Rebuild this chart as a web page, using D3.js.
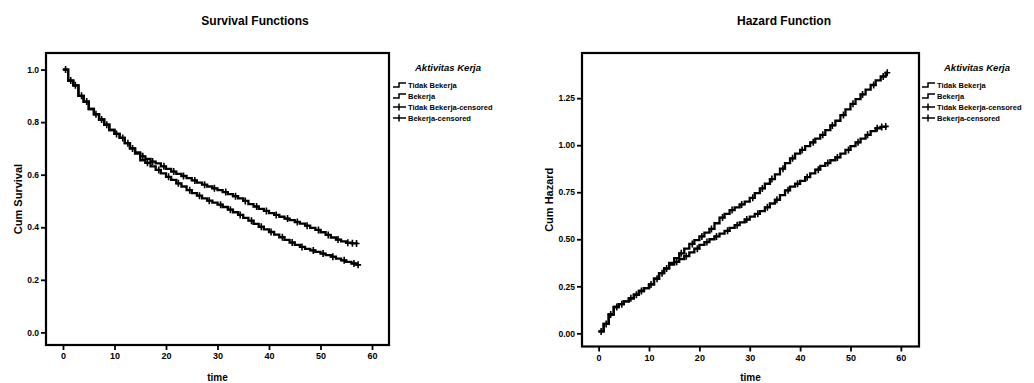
<!DOCTYPE html>
<html>
<head>
<meta charset="utf-8">
<script src="https://cdn.jsdelivr.net/npm/d3@7/dist/d3.min.js"></script>
<style>
	body { margin: 0; background: #fff; }
	svg { font-family: "Liberation Sans", Arial, sans-serif; font-weight: bold; }
</style>
</head>
<body>
<svg id="chart" width="1034" height="383"></svg>
<script>
// waktu (bulan) untuk tiap langkah kurva
const timeSteps = [0,1,2,3,4,5,6,7,8,9,10,11,12,13,14,15,16,17,18,19,20,21,22,23,24,25,26,27,28,29,
	30,31,32,33,34,35,36,37,38,39,40,41,42,43,44,45,46,47,48,49,50,51,52,53,54,55,56,57];

// Cum Survival
const survTidak = [1.0,0.958,0.94,0.90,0.878,0.85,0.83,0.81,0.79,0.77,0.755,0.74,0.72,0.70,0.685,0.67,
	0.66,0.65,0.643,0.632,0.622,0.612,0.603,0.595,0.587,0.578,0.57,0.562,0.555,0.548,0.541,0.534,0.526,
	0.518,0.51,0.50,0.488,0.479,0.47,0.462,0.454,0.447,0.44,0.433,0.427,0.42,0.414,0.406,0.398,0.39,
	0.381,0.371,0.361,0.353,0.346,0.341,0.339,0.338];
const survBekerja = [1.0,0.958,0.94,0.90,0.878,0.85,0.83,0.81,0.79,0.77,0.755,0.74,0.72,0.70,0.68,0.655,
	0.645,0.632,0.618,0.605,0.592,0.58,0.567,0.555,0.541,0.53,0.52,0.51,0.501,0.494,0.486,0.477,0.467,
	0.457,0.447,0.436,0.425,0.413,0.402,0.392,0.382,0.372,0.362,0.352,0.342,0.333,0.325,0.318,0.312,
	0.306,0.30,0.294,0.288,0.281,0.274,0.268,0.262,0.257];

// Cum Hazard
const hazTidak = [0.01,0.05,0.10,0.14,0.155,0.17,0.186,0.205,0.225,0.24,0.26,0.29,0.32,0.345,0.365,0.38,
	0.395,0.41,0.43,0.45,0.47,0.485,0.50,0.515,0.53,0.545,0.56,0.575,0.59,0.605,0.62,0.635,0.65,0.67,
	0.69,0.71,0.735,0.76,0.78,0.795,0.81,0.83,0.85,0.87,0.89,0.905,0.92,0.935,0.955,0.975,0.995,1.015,
	1.035,1.055,1.075,1.09,1.097,1.10];
const hazBekerja = [0.01,0.05,0.10,0.14,0.155,0.17,0.186,0.205,0.225,0.24,0.26,0.29,0.32,0.345,0.375,0.40,
	0.425,0.45,0.475,0.495,0.515,0.535,0.555,0.585,0.615,0.635,0.655,0.67,0.685,0.70,0.72,0.745,0.77,
	0.795,0.82,0.845,0.875,0.905,0.93,0.955,0.975,0.995,1.015,1.035,1.055,1.08,1.105,1.13,1.16,1.19,
	1.22,1.245,1.27,1.295,1.32,1.345,1.365,1.385];

// waktu tersensor
const censTidak = [0.5,2.4,4.6,7.5,10.4,12.6,15.5,17.4,19.6,21.5,23.4,25.6,27.5,29.4,31.6,33.5,35.4,
	37.6,39.5,41.4,43.6,45.5,47.4,49.6,51.5,53.4,55.3,56.2,57.0];
const censBekerja = [1.5,3.6,6.4,8.5,11.6,13.5,16.4,18.6,20.5,22.4,24.6,26.5,28.4,30.6,32.5,34.4,36.6,
	38.5,40.4,42.6,44.5,46.4,48.6,50.5,52.4,54.6,56.5,57.3];

const legendTitle = "Aktivitas Kerja";
const legendNames = ["Tidak Bekerja", "Bekerja", "Tidak Bekerja-censored", "Bekerja-censored"];
const timeTicks = [0, 10, 20, 30, 40, 50, 60];
const survTicks = [0, 0.2, 0.4, 0.6, 0.8, 1.0];
const hazTicks = [0, 0.25, 0.5, 0.75, 1.0, 1.25];

const svg = d3.select("#chart");

drawPanel({
	title: "Survival Functions", titleX: 255,
	yLabel: "Cum Survival", yLabelX: 18,
	left: 46, right: 389, top: 53, bottom: 345,
	xDomain: [-3.3, 63.3], yDomain: [-0.048, 1.063],
	yTicks: survTicks, yFormat: d3.format(".1f"),
	series: [survTidak, survBekerja],
	legendX: 393
});

drawPanel({
	title: "Hazard Function", titleX: 784,
	yLabel: "Cum Hazard", yLabelX: 549,
	left: 582, right: 919, top: 53, bottom: 346.5,
	xDomain: [-3.3, 63.6], yDomain: [-0.07, 1.49],
	yTicks: hazTicks, yFormat: d3.format(".2f"),
	series: [hazTidak, hazBekerja],
	legendX: 922
});

function drawPanel(c) {
	const g = svg.append("g");
	const x = d3.scaleLinear(c.xDomain, [c.left, c.right]);
	const y = d3.scaleLinear(c.yDomain, [c.bottom, c.top]);

	// judul
	g.append("text")
	 .attr("x", c.titleX).attr("y", 25)
	 .attr("text-anchor", "middle")
	 .attr("font-size", 12)
	 .text(c.title);

	// sumbu x
	g.append("g")
	 .attr("transform", `translate(0, ${c.bottom})`)
	 .call(d3.axisBottom(x).tickValues(timeTicks).tickSize(5).tickPadding(3).tickFormat(d3.format("d")))
	 .call(a => a.select(".domain").remove())
	 .call(a => a.selectAll(".tick line").attr("stroke", "#000").attr("stroke-width", 1.8))
	 .call(a => a.selectAll(".tick text").attr("font-size", 9).attr("font-weight", "bold")
	             .attr("font-family", "Liberation Sans, Arial, sans-serif").attr("fill", "#000"));

	// sumbu y
	g.append("g")
	 .attr("transform", `translate(${c.left}, 0)`)
	 .call(d3.axisLeft(y).tickValues(c.yTicks).tickSize(5).tickPadding(2).tickFormat(c.yFormat))
	 .call(a => a.select(".domain").remove())
	 .call(a => a.selectAll(".tick line").attr("stroke", "#000").attr("stroke-width", 1.8))
	 .call(a => a.selectAll(".tick text").attr("font-size", 8.5).attr("font-weight", "bold")
	             .attr("font-family", "Liberation Sans, Arial, sans-serif").attr("fill", "#000"));

	// label sumbu
	g.append("text")
	 .attr("x", (c.left + c.right) / 2).attr("y", 381)
	 .attr("text-anchor", "middle")
	 .attr("font-size", 10)
	 .text("time");
	g.append("text")
	 .attr("transform", `translate(${c.yLabelX}, ${(c.top + c.bottom) / 2}) rotate(-90)`)
	 .attr("text-anchor", "middle")
	 .attr("dominant-baseline", "central")
	 .attr("font-size", 11)
	 .text(c.yLabel);

	// bingkai
	g.append("rect")
	 .attr("x", c.left).attr("y", c.top)
	 .attr("width", c.right - c.left).attr("height", c.bottom - c.top)
	 .attr("fill", "none").attr("stroke", "#000").attr("stroke-width", 2.2);

	const line = d3.line()
	               .x(d => x(d[0]))
	               .y(d => y(d[1]))
	               .curve(d3.curveStepAfter);

	const cens = [censTidak, censBekerja];
	const bisect = d3.bisector(d => d).right;

	c.series.forEach((vals, k) => {
		const pts = timeSteps.map((t, i) => [t, vals[i]]);
		const tEnd = Math.max(d3.max(cens[k]), timeSteps[timeSteps.length - 1]);
		pts.push([tEnd, vals[vals.length - 1]]);

		g.append("path")
		 .attr("d", line(pts))
		 .attr("fill", "none")
		 .attr("stroke", "#000")
		 .attr("stroke-width", 2.3);

		// tanda tersensor (+)
		g.append("g")
		 .selectAll("path")
		 .data(cens[k])
		 .join("path")
		 .attr("transform", t => {
		 	const i = Math.max(0, bisect(timeSteps, t) - 1);
		 	return `translate(${x(t)}, ${y(vals[i])})`;
		 })
		 .attr("d", "M-3,0H3M0,-3.5V3.5")
		 .attr("stroke", "#000")
		 .attr("stroke-width", 1.6);
	});

	// legenda
	const lg = g.append("g").attr("transform", `translate(${c.legendX}, 0)`);
	lg.append("text")
	  .attr("x", 22).attr("y", 71)
	  .attr("font-size", 9.5)
	  .attr("font-style", "italic")
	  .text(legendTitle);

	const item = lg.selectAll("g.item")
	               .data(legendNames)
	               .join("g")
	               .attr("class", "item")
	               .attr("transform", (_, i) => `translate(0, ${85 + i * 11})`);

	item.append("path")
	    .attr("d", (_, i) => i < 2 ? "M0,2H6V-2H13" : "M0,0H13M6,-3.5V3.5")
	    .attr("fill", "none")
	    .attr("stroke", "#000")
	    .attr("stroke-width", 1.5);

	item.append("text")
	    .attr("x", 15).attr("y", 3)
	    .attr("font-size", 7.5)
	    .text(d => d);
}
</script>
</body>
</html>
